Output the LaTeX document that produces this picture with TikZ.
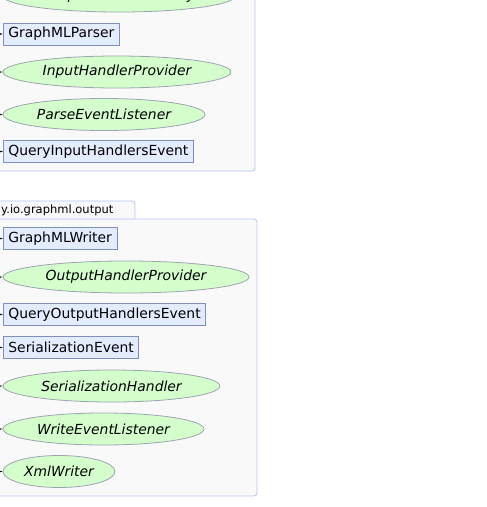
\documentclass[tikz,border=0pt]{standalone}
\usepackage{fontspec}
\setmainfont{DejaVu Sans}
\usepackage{tikz}
\usetikzlibrary{shapes,arrows,positioning}

\definecolor{pkgfill}{HTML}{F9F9FA}
\definecolor{pkgline}{HTML}{B4C4F0}
\definecolor{clsfill}{HTML}{E4ECFF}
\definecolor{clsline}{HTML}{7F8FC4}
\definecolor{ifcfill}{HTML}{D4FFCC}
\definecolor{ifcline}{HTML}{9CA4B0}

\begin{document}
\begin{tikzpicture}[x=1pt, y=-1pt,
  package/.style={draw=pkgline, fill=pkgfill, rounded corners=3pt, line width=0.8pt},
  cls/.style={rectangle, draw=clsline, fill=clsfill, anchor=west, inner xsep=5pt,
    minimum height=22pt, font=\fontsize{13.9}{15}\selectfont, line width=0.8pt},
  ifc/.style={ellipse, draw=ifcline, fill=ifcfill, inner sep=0pt, minimum height=32pt,
    font=\fontsize{13.9}{15}\selectfont\itshape, line width=0.8pt},
  line/.style={draw, -latex', line width=0.6pt}]

  \useasboundingbox (0,0) rectangle (487,507);
  \clip (0,0) rectangle (487,507);

  % packages
  \draw [package] (-10,-20) rectangle (255,171);
  \draw [package] (-10,219) |- (135,201) -- (135,219);
  \node [anchor=west, inner sep=0pt, font=\fontsize{11.5}{13}\selectfont] (pkgname) at (1,210.5) {y.io.graphml.output};
  \draw [package] (-10,219) rectangle (257,496);

  % y.io.graphml.input
  \node [ifc, minimum width=232pt] (factory) at (119,-4) {GraphElementFactory};
  \node [cls] (parser) at (3,34) {GraphMLParser};
  \node [ifc, minimum width=228pt] (inprov) at (117,72) {InputHandlerProvider};
  \node [ifc, minimum width=202pt] (parselis) at (104,114.5) {ParseEventListener};
  \node [cls] (queryin) at (3,151.5) {QueryInputHandlersEvent};

  % y.io.graphml.output
  \node [cls] (writer) at (3,238.5) {GraphMLWriter};
  \node [ifc, minimum width=246pt] (outprov) at (126,277) {OutputHandlerProvider};
  \node [cls] (queryout) at (3,314.5) {QueryOutputHandlersEvent};
  \node [cls] (serevent) at (3,347.5) {SerializationEvent};
  \node [ifc, minimum width=217pt] (serhandler) at (111.5,386) {SerializationHandler};
  \node [ifc, minimum width=201pt] (writelis) at (103.5,429) {WriteEventListener};
  \node [ifc, minimum width=112pt] (xmlwriter) at (59,471.5) {XmlWriter};

  % incoming edges from the left
  \coordinate (e1) at (-8,34);
  \coordinate (e2) at (-8,72);
  \coordinate (e3) at (-8,114.5);
  \coordinate (e4) at (-8,151.5);
  \coordinate (e5) at (-8,238.5);
  \coordinate (e6) at (-8,277);
  \coordinate (e7) at (-8,314.5);
  \coordinate (e8) at (-8,347.5);
  \coordinate (e9) at (-8,386);
  \coordinate (e10) at (-8,429);
  \coordinate (e11) at (-8,471.5);

  \draw [line] (e1) -- (parser);
  \draw [line] (e2) -- (inprov);
  \draw [line] (e3) -- (parselis);
  \draw [line] (e4) -- (queryin);
  \draw [line] (e5) -- (writer);
  \draw [line] (e6) -- (outprov);
  \draw [line] (e7) -- (queryout);
  \draw [line] (e8) -- (serevent);
  \draw [line] (e9) -- (serhandler);
  \draw [line] (e10) -- (writelis);
  \draw [line] (e11) -- (xmlwriter);
\end{tikzpicture}
\end{document}
